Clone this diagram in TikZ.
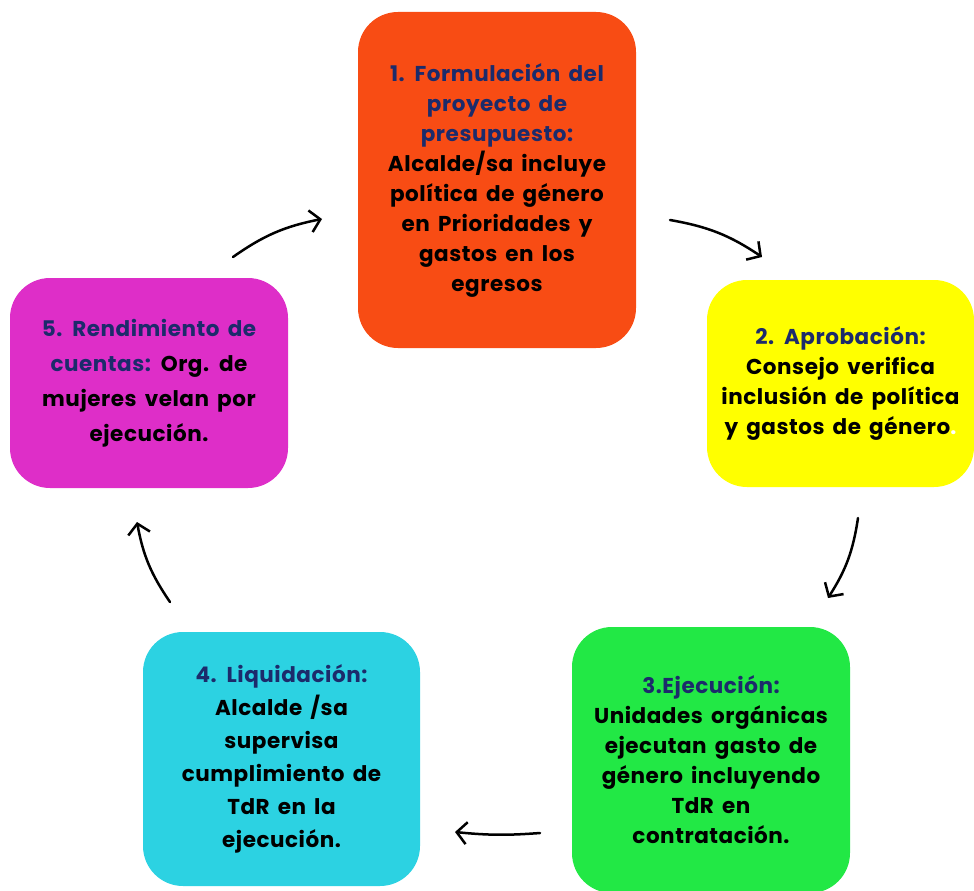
\documentclass[tikz,border=0pt]{standalone}
\usepackage{fontspec}
\setmainfont{Poppins}[LetterSpace=2.5,WordSpace=1.6]
\usepackage{xcolor}
\definecolor{FaseNaranja}{HTML}{F84C14}
\definecolor{FaseAmarillo}{HTML}{FFFF00}
\definecolor{FaseVerde}{HTML}{22E845}
\definecolor{FaseCian}{HTML}{2CD2E2}
\definecolor{FaseMagenta}{HTML}{DE2EC8}
\definecolor{TituloAzul}{HTML}{1C2B6B}
\usetikzlibrary{arrows.meta}
\tikzset{
	fase/.style={rounded corners=40pt,align=center,inner sep=0pt,font=\bfseries\fontsize{21.5}{30}\selectfont},
	flecha/.style={line width=2.5pt,line cap=round,-{Straight Barb[length=10pt,width=22pt]},bend left=12}
}
\newcommand{\titulo}[1]{\textcolor{TituloAzul}{#1}}

\begin{document}
\begin{tikzpicture}[x=1pt,y=-1pt]
		\useasboundingbox (0,0) rectangle (974,891);
		
		% fases del ciclo
		\node[fase,fill=FaseNaranja,minimum width=278pt,minimum height=336pt] (formulacion) at (497,180) {\titulo{1. Formulación del}\\ \titulo{proyecto de}\\ \titulo{presupuesto:}\\ Alcalde/sa incluye\\ política de género\\ en Prioridades y\\ gastos en los\\ egresos};
		\node[fase,fill=FaseAmarillo,minimum width=267pt,minimum height=207pt] (aprobacion) at (840.5,383.5) {\titulo{2. Aprobación:}\\ Consejo verifica\\ inclusión de política\\ y gastos de género\textcolor{white}{.}};
		\node[fase,fill=FaseVerde,minimum width=278pt,minimum height=266pt] (ejecucion) at (711,760) {\titulo{3.Ejecución:}\\ Unidades orgánicas\\ ejecutan gasto de\\ género incluyendo\\ TdR en\\ contratación.};
		\node[fase,fill=FaseCian,minimum width=277pt,minimum height=254pt,font=\bfseries\fontsize{21.5}{33}\selectfont] (liquidacion) at (281.5,759) {\titulo{4. Liquidación:}\\ Alcalde /sa\\ supervisa\\ cumplimiento de\\ TdR en la\\ ejecución.};
		\node[fase,fill=FaseMagenta,minimum width=278pt,minimum height=210pt,font=\bfseries\fontsize{21.5}{35}\selectfont] (rendimiento) at (149,383) {\titulo{5. Rendimiento de}\\ \titulo{cuentas:} Org. de\\ mujeres velan por\\ ejecución.};
		
		% flechas entre fases
		\coordinate (r-f) at (233,257);
		\coordinate (f-r) at (322,219);
		\coordinate (f-a) at (670,220);
		\coordinate (a-f) at (762,257);
		\coordinate (a-e) at (858,518);
		\coordinate (e-a) at (828,598);
		\coordinate (e-l) at (540,833);
		\coordinate (l-e) at (455,832);
		\coordinate (l-r) at (170,602);
		\coordinate (r-l) at (137,522);
		
		\draw[flecha] (r-f) to (f-r);
		\draw[flecha] (f-a) to (a-f);
		\draw[flecha] (a-e) to (e-a);
		\draw[flecha,bend left=5] (e-l) to (l-e);
		\draw[flecha] (l-r) to (r-l);
		
	\end{tikzpicture}
\end{document}
